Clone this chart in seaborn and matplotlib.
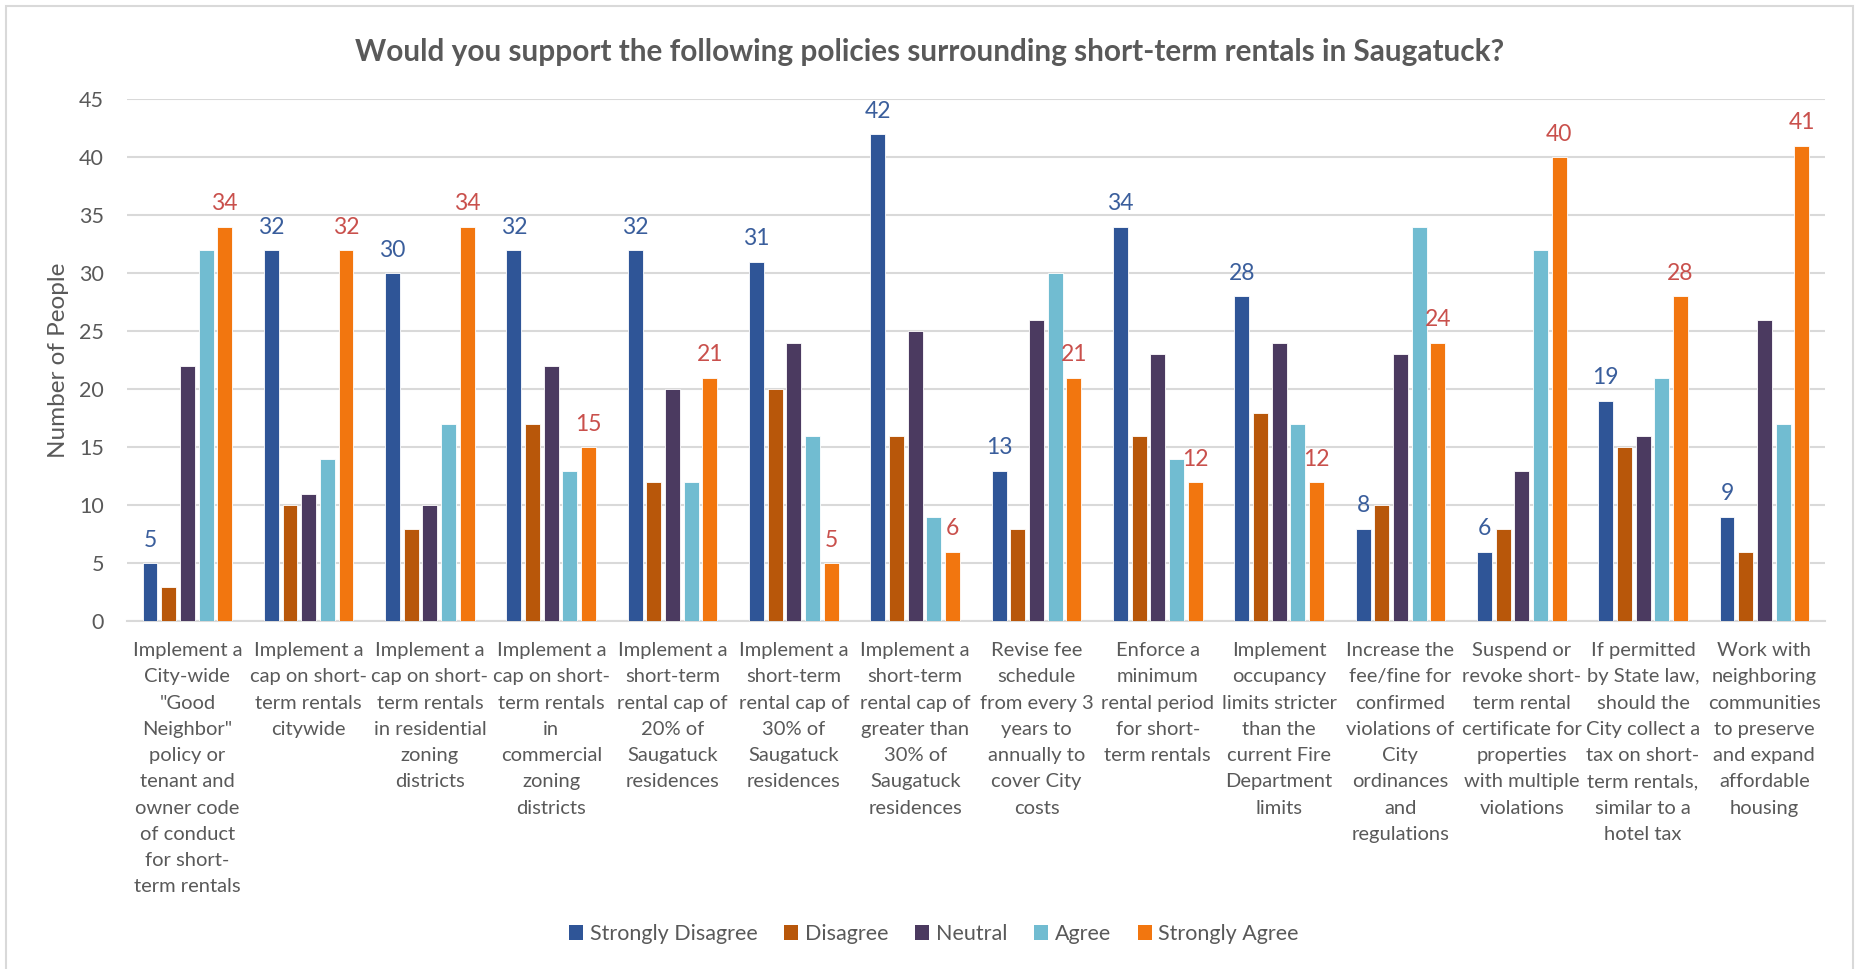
import matplotlib
matplotlib.use("Agg")
import matplotlib.pyplot as plt
import matplotlib.transforms as mtransforms
from matplotlib.patches import Patch, Rectangle
import pandas as pd
import seaborn as sns

# Survey: support for short-term rental policies in Saugatuck
policies = [
    "Implement a\nCity-wide\n\"Good\nNeighbor\"\npolicy or\ntenant and\nowner code\nof conduct\nfor short-\nterm rentals",
    "Implement a\ncap on short-\nterm rentals\ncitywide",
    "Implement a\ncap on short-\nterm rentals\nin residential\nzoning\ndistricts",
    "Implement a\ncap on short-\nterm rentals\nin\ncommercial\nzoning\ndistricts",
    "Implement a\nshort-term\nrental cap of\n20% of\nSaugatuck\nresidences",
    "Implement a\nshort-term\nrental cap of\n30% of\nSaugatuck\nresidences",
    "Implement a\nshort-term\nrental cap of\ngreater than\n30% of\nSaugatuck\nresidences",
    "Revise fee\nschedule\nfrom every 3\nyears to\nannually to\ncover City\ncosts",
    "Enforce a\nminimum\nrental period\nfor short-\nterm rentals",
    "Implement\noccupancy\nlimits stricter\nthan the\ncurrent Fire\nDepartment\nlimits",
    "Increase the\nfee/fine for\nconfirmed\nviolations of\nCity\nordinances\nand\nregulations",
    "Suspend or\nrevoke short-\nterm rental\ncertificate for\nproperties\nwith multiple\nviolations",
    "If permitted\nby State law,\nshould the\nCity collect a\ntax on short-\nterm rentals,\nsimilar to a\nhotel tax",
    "Work with\nneighboring\ncommunities\nto preserve\nand expand\naffordable\nhousing",
]

responses = ["Strongly Disagree", "Disagree", "Neutral", "Agree", "Strongly Agree"]

strongly_disagree = [5, 32, 30, 32, 32, 31, 42, 13, 34, 28, 8, 6, 19, 9]
disagree = [3, 10, 8, 17, 12, 20, 16, 8, 16, 18, 10, 8, 15, 6]
neutral = [22, 11, 10, 22, 20, 24, 25, 26, 23, 24, 23, 13, 16, 26]
agree = [32, 14, 17, 13, 12, 16, 9, 30, 14, 17, 34, 32, 21, 17]
strongly_agree = [34, 32, 34, 15, 21, 5, 6, 21, 12, 12, 24, 40, 28, 41]

colors = ["#2F5597", "#B8570A", "#4B3A60", "#71BCD1", "#F2760F"]
label_colors = {"Strongly Disagree": "#3A5E9C", "Strongly Agree": "#C9504C"}
text_gray = "#595959"
grid_gray = "#D9D9D9"

series = [strongly_disagree, disagree, neutral, agree, strongly_agree]
df = pd.DataFrame(
    [
        {"Policy": p, "Response": r, "Count": v}
        for r, vals in zip(responses, series)
        for p, v in zip(policies, vals)
    ]
)

sns.set_style("white")
plt.rcParams["font.family"] = ["Lato", "DejaVu Sans"]

W, H = 1858, 969
fig = plt.figure(figsize=(W / 100, H / 100), dpi=100)
left, right, top, bottom = 126.7, 1825, 99.3, 621.3
ax = fig.add_axes([left / W, 1 - bottom / H, (right - left) / W, (bottom - top) / H])

sns.barplot(
    data=df, x="Policy", y="Count", hue="Response",
    order=policies, hue_order=responses, palette=colors,
    saturation=1, width=0.77, gap=0.2, errorbar=None,
    edgecolor="white", linewidth=0.6, legend=False, ax=ax, zorder=3,
)

ax.set_ylim(0, 45)
ax.set_xlim(-0.5, len(policies) - 0.5)
ax.set_yticks(range(0, 46, 5))
ax.yaxis.grid(True, color=grid_gray, linewidth=1.5, zorder=0)
ax.set_axisbelow(True)
for side in ["left", "right", "top"]:
    ax.spines[side].set_visible(False)
ax.spines["bottom"].set_color(grid_gray)
ax.spines["bottom"].set_linewidth(1.5)

ax.tick_params(axis="y", length=0, pad=16.5, labelsize=15.5, labelcolor=text_gray)
ax.tick_params(axis="x", length=0, labelbottom=False)

# multi-line category names under each group
cat_trans = mtransforms.blended_transform_factory(ax.transData, ax.transAxes)
for i, name in enumerate(policies):
    ax.annotate(name, xy=(i, 0), xycoords=cat_trans, xytext=(0, -15),
                textcoords="offset points", ha="center", va="top",
                fontsize=14.5, color=text_gray, linespacing=1.66,
                annotation_clip=False)

ax.set_xlabel("")
ax.set_ylabel("Number of People", fontsize=17.5, color=text_gray)
ax.yaxis.set_label_coords((58.5 - left) / (right - left), 0.5)
ax.yaxis.label.set_verticalalignment("center")

# value labels on the two extreme response groups
for container, resp in zip(ax.containers, responses):
    if resp in label_colors:
        ax.bar_label(container, labels=[f"{int(v)}" for v in container.datavalues],
                     padding=9, fontsize=16.5, color=label_colors[resp])

fig.suptitle(
    "Would you support the following policies surrounding short-term rentals in Saugatuck?",
    x=929.5 / W, y=1 - 52.5 / H, va="center", fontsize=21.4, fontweight="bold", color=text_gray,
)

handles = [Patch(facecolor=c, edgecolor="none") for c in colors]
fig.legend(
    handles, responses, loc="center", bbox_to_anchor=(934 / W, 1 - 934 / H),
    ncol=5, frameon=False, fontsize=15.5, labelcolor=text_gray,
    handlelength=0.65, handleheight=0.65, handletextpad=0.3, columnspacing=1.25,
)

# light chart-area border
fig.patches.append(Rectangle((6 / W, -0.05), (1853 - 6) / W, 1 - 6 / H + 0.05,
                             transform=fig.transFigure, fill=False,
                             edgecolor=grid_gray, linewidth=1.5))

fig.savefig("out.png", dpi=100, facecolor="white")
